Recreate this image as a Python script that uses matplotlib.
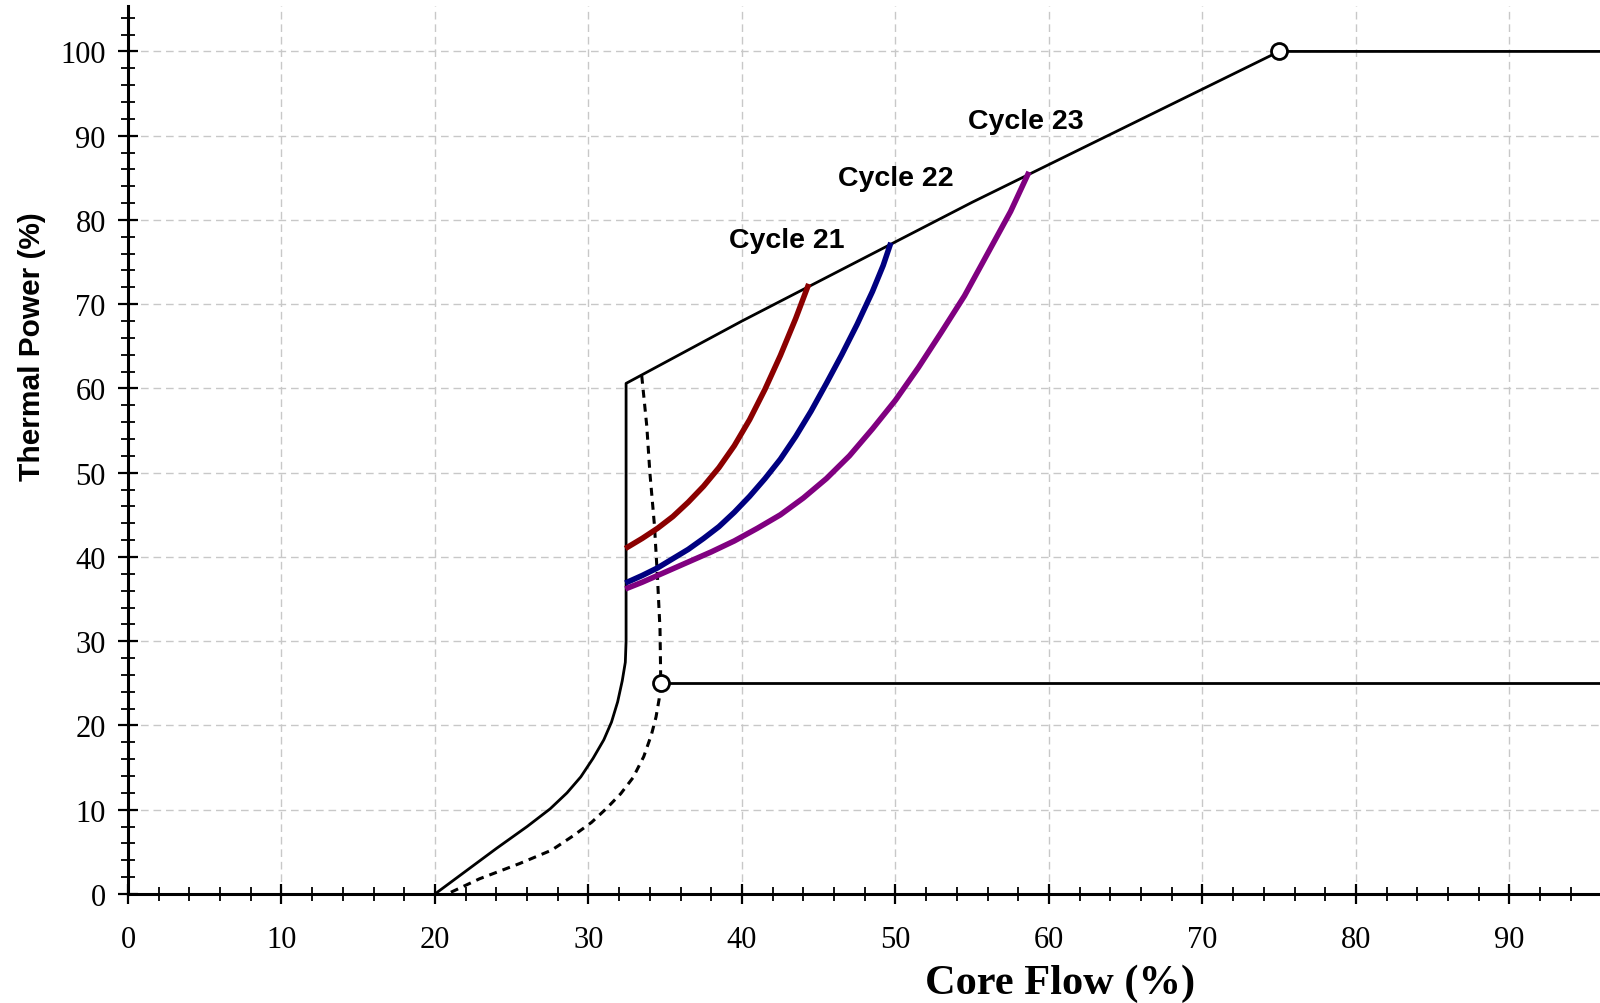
import numpy as np
import matplotlib.pyplot as plt
from matplotlib.ticker import MultipleLocator

# operating map boundary (solid black), core flow % vs thermal power %
bound_x = [20.0, 22.0, 24.0, 26.0, 27.5, 28.6, 29.5, 30.3, 31.0, 31.5, 31.9, 32.2, 32.4,
           32.45, 32.45, 40.0, 55.0, 75.0, 96.0]
bound_y = [0.0, 2.7, 5.4, 8.0, 10.1, 12.0, 13.9, 16.1, 18.3, 20.4, 22.8, 25.3, 27.5,
           30.0, 60.6, 68.0, 82.1, 100.0, 100.0]

# dotted line
dot_x = [33.47, 33.8, 34.0, 34.3, 34.5, 34.66, 34.7, 34.7, 34.6, 34.4, 34.1, 33.6, 32.9,
         32.1, 31.2, 30.2, 29.0, 27.6, 25.5, 22.9, 20.8]
dot_y = [61.5, 55.5, 50.0, 43.7, 37.4, 31.4, 26.3, 25.0, 23.1, 21.0, 18.9, 16.3, 13.8,
         11.9, 10.2, 8.5, 6.9, 5.2, 3.6, 1.8, 0.0]

# lower horizontal line
low_x = [34.7, 96.0]
low_y = [25.0, 25.0]

# open circle points
circ_x = [34.7, 75.0]
circ_y = [25.0, 100.0]

# cycle curves
c21_x = [32.4, 33.5, 34.5, 35.5, 36.5, 37.5, 38.5, 39.5, 40.5, 41.5, 42.5, 43.5, 44.35]
c21_y = [41.0, 42.2, 43.4, 44.8, 46.5, 48.4, 50.6, 53.2, 56.3, 59.9, 63.9, 68.3, 72.4]

c22_x = [32.4, 33.5, 34.5, 35.5, 36.5, 37.5, 38.5, 39.5, 40.5, 41.5, 42.5, 43.5, 44.5,
         45.5, 46.5, 47.5, 48.5, 49.2, 49.7]
c22_y = [36.9, 37.8, 38.7, 39.8, 40.9, 42.2, 43.6, 45.3, 47.2, 49.3, 51.6, 54.3, 57.3,
         60.6, 64.0, 67.6, 71.5, 74.6, 77.3]

c23_x = [32.4, 33.5, 35.0, 36.5, 38.0, 39.5, 41.0, 42.5, 44.0, 45.5, 47.0, 48.5, 50.0,
         51.5, 53.0, 54.5, 56.0, 57.5, 58.7]
c23_y = [36.2, 37.0, 38.2, 39.4, 40.6, 41.9, 43.4, 45.0, 47.0, 49.3, 52.0, 55.2, 58.6,
         62.5, 66.7, 71.0, 76.0, 81.0, 85.7]

labels = ["Cycle 21", "Cycle 22", "Cycle 23"]
label_x = [42.9, 50.0, 58.5]
label_y = [77.6, 85.0, 91.8]
colors = ["#8b0000", "#000080", "#800080"]

serif = "Liberation Serif"
sans = "Liberation Sans"

fig = plt.figure(figsize=(16, 10.04), dpi=100)
ax = fig.add_axes([0.08, 0.1086, 0.92, 0.8845])

ax.set_xlim(0, 95.9)
ax.set_ylim(0, 105.4)

# grid
ax.grid(True, which="major", color="#c8c8c8", linewidth=1.0, linestyle=(0, (5.5, 3.5)))
ax.set_axisbelow(True)

ax.plot(bound_x, bound_y, color="black", lw=2.0, zorder=3)
ax.plot(dot_x, dot_y, color="black", lw=2.2, linestyle=(0, (2.6, 2.0)), zorder=3)
ax.plot(low_x, low_y, color="black", lw=2.0, zorder=3)

for cx, cy, col in zip([c21_x, c22_x, c23_x], [c21_y, c22_y, c23_y], colors):
    ax.plot(cx, cy, color=col, lw=4.0, solid_capstyle="butt", zorder=4)

ax.plot(circ_x, circ_y, linestyle="none", marker="o", ms=11.5, mfc="white",
        mec="black", mew=2.0, zorder=5)

for t, lx, ly in zip(labels, label_x, label_y):
    ax.text(lx, ly, t, fontsize=20.5, fontweight="bold", family=sans,
            ha="center", va="center")

# axes styling
for s in ["top", "right"]:
    ax.spines[s].set_visible(False)
for s in ["left", "bottom"]:
    ax.spines[s].set_linewidth(2.2)

ax.xaxis.set_major_locator(MultipleLocator(10))
ax.xaxis.set_minor_locator(MultipleLocator(2))
ax.yaxis.set_major_locator(MultipleLocator(10))
ax.yaxis.set_minor_locator(MultipleLocator(2))
ax.set_xticks(np.arange(0, 91, 10))

ax.tick_params(which="major", direction="inout", length=14, width=1.6)
ax.tick_params(which="minor", direction="inout", length=9.5, width=1.3)
ax.tick_params(axis="x", which="major", pad=15)
ax.tick_params(axis="y", which="major", pad=9)

for lab in ax.get_xticklabels() + ax.get_yticklabels():
    lab.set_fontfamily(serif)
    lab.set_fontsize(22)

ax.set_xlabel("Core Flow (%)", fontsize=30.5, fontweight="bold", family=serif,
              va="center")
ax.xaxis.set_label_coords(0.633, -0.1)
ax.set_ylabel("Thermal Power (%)", fontsize=21.5, fontweight="bold", family=sans)
ax.yaxis.set_label_coords(-0.056, 0.617)

fig.savefig("out.png", dpi=100)
